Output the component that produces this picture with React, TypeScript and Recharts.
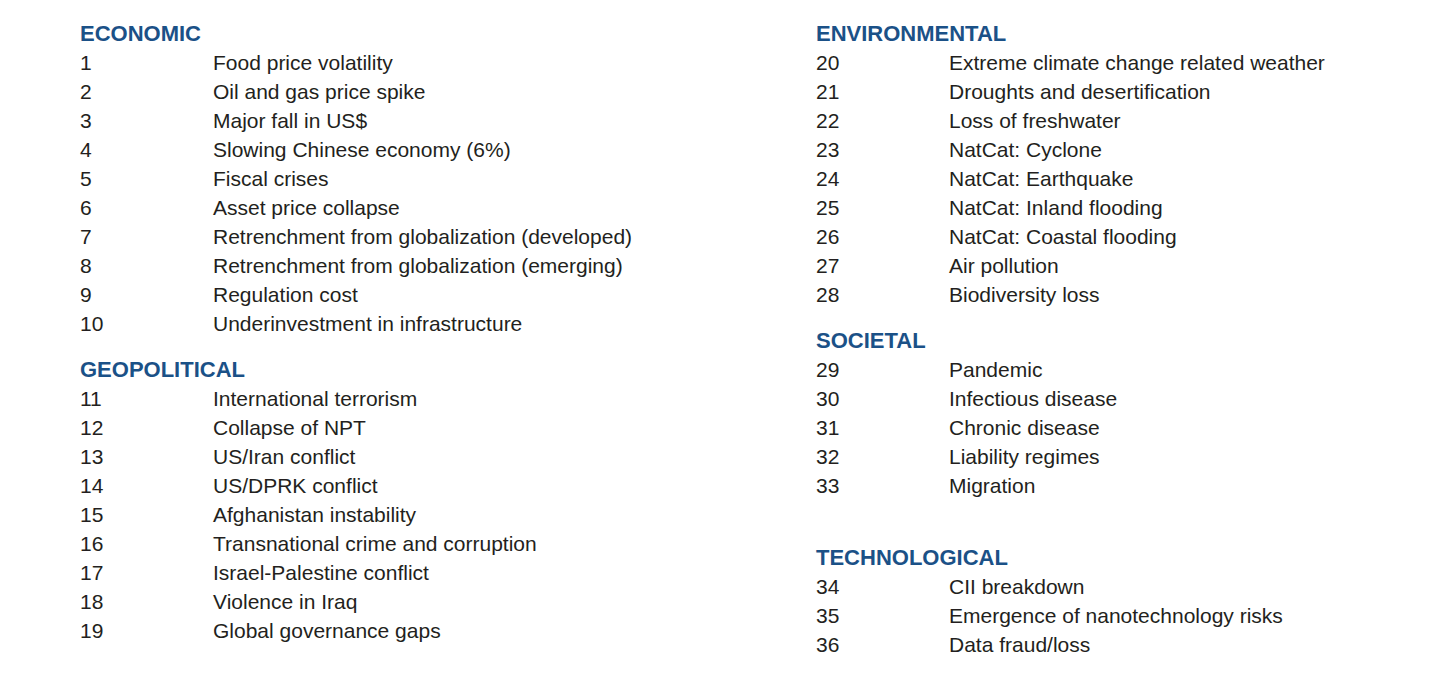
import React from "react";
import { ScatterChart, Scatter, XAxis, YAxis } from "recharts";

// Group headings, the column they sit in, and the row slot where they start
const groups = ["ECONOMIC", "GEOPOLITICAL", "ENVIRONMENTAL", "SOCIETAL", "TECHNOLOGICAL"];
const groupColumn = [0, 0, 1, 1, 1];
const groupStartRow = [0, 11.62, 0, 10.62, 18.07];

const economic = [
  "Food price volatility",
  "Oil and gas price spike",
  "Major fall in US$",
  "Slowing Chinese economy (6%)",
  "Fiscal crises",
  "Asset price collapse",
  "Retrenchment from globalization (developed)",
  "Retrenchment from globalization (emerging)",
  "Regulation cost",
  "Underinvestment in infrastructure",
];
const geopolitical = [
  "International terrorism",
  "Collapse of NPT",
  "US/Iran conflict",
  "US/DPRK conflict",
  "Afghanistan instability",
  "Transnational crime and corruption",
  "Israel-Palestine conflict",
  "Violence in Iraq",
  "Global governance gaps",
];
const environmental = [
  "Extreme climate change related weather",
  "Droughts and desertification",
  "Loss of freshwater",
  "NatCat: Cyclone",
  "NatCat: Earthquake",
  "NatCat: Inland flooding",
  "NatCat: Coastal flooding",
  "Air pollution",
  "Biodiversity loss",
];
const societal = ["Pandemic", "Infectious disease", "Chronic disease", "Liability regimes", "Migration"];
const technological = ["CII breakdown", "Emergence of nanotechnology risks", "Data fraud/loss"];

const groupItems = [economic, geopolitical, environmental, societal, technological];

const BLUE = "#1b5187";
const INK = "#231f20";
const FONT = "Helvetica, Arial, 'Liberation Sans', sans-serif";

type Row = { col: number; row: number; kind: "head" | "item"; num?: number; text: string };

const rows: Row[] = [];
let counter = 1;
groups.forEach((g, gi) => {
  rows.push({ col: groupColumn[gi], row: groupStartRow[gi], kind: "head", text: g });
  groupItems[gi].forEach((t, i) => {
    rows.push({ col: groupColumn[gi], row: groupStartRow[gi] + 1 + i, kind: "item", num: counter++, text: t });
  });
});

const RowShape = (props: any) => {
  const { cx, cy, payload } = props;
  if (payload.kind === "head") {
    return (
      <text x={cx} y={cy} dominantBaseline="central" fill={BLUE} fontFamily={FONT} fontWeight={700} fontSize={22}>
        {payload.text}
      </text>
    );
  }
  return (
    <g fontFamily={FONT} fontSize={21} fill={INK}>
      <text x={cx} y={cy} dominantBaseline="central">{payload.num}</text>
      <text x={cx + 133} y={cy} dominantBaseline="central">{payload.text}</text>
    </g>
  );
};

export default function App() {
  if (typeof document !== "undefined") document.body.style.margin = "0";
  return (
    <div style={{ width: 1438, height: 696, background: "#fff" }}>
      <ScatterChart width={1438} height={696} margin={{ top: 0, right: 0, bottom: 0, left: 0 }}>
        <XAxis type="number" dataKey="col" domain={[-80 / 736, 1358 / 736]} hide allowDataOverflow />
        <YAxis type="number" dataKey="row" domain={[-33 / 29, 663 / 29]} reversed hide allowDataOverflow />
        <Scatter data={rows} shape={RowShape} isAnimationActive={false} />
      </ScatterChart>
    </div>
  );
}
